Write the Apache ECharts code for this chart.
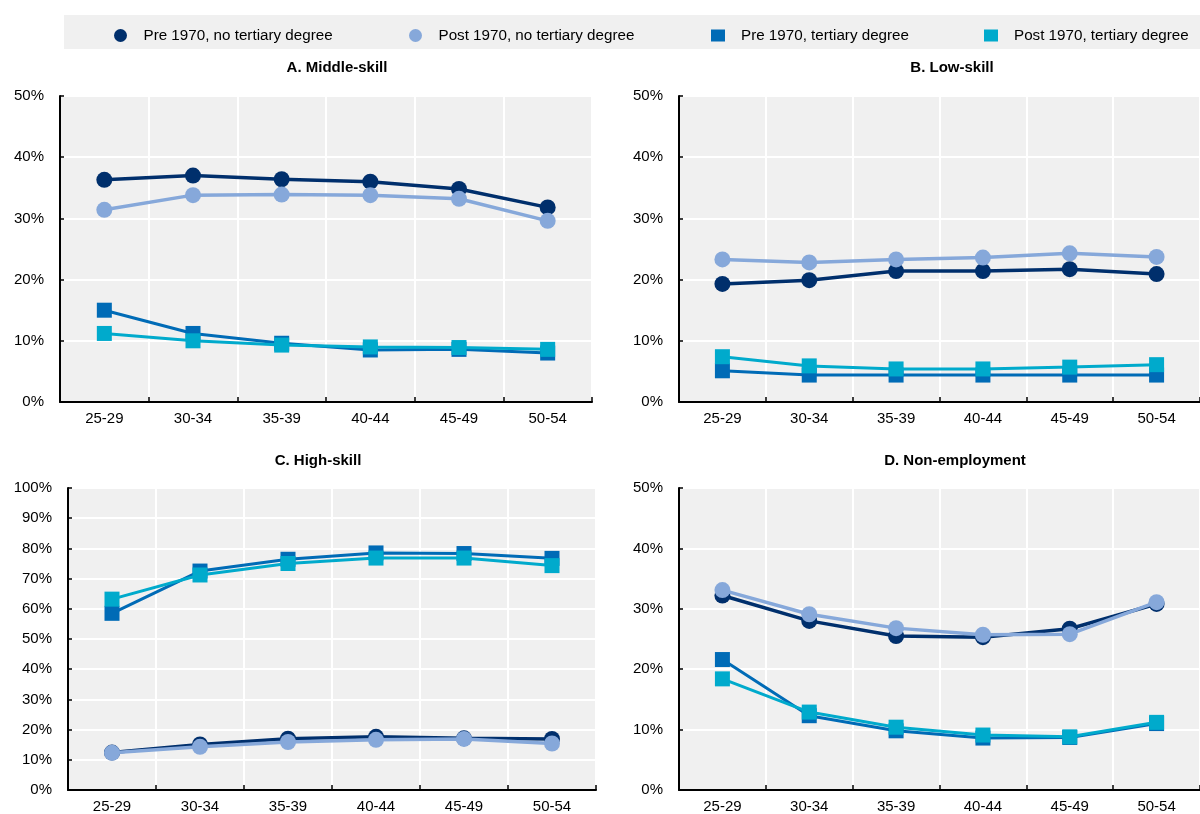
<!DOCTYPE html>
<html>
<head>
<meta charset="utf-8">
<script src="https://cdn.jsdelivr.net/npm/echarts@6/dist/echarts.min.js"></script>
<style>
html,body{margin:0;padding:0;background:#fff;}
#chart{width:1200px;height:814px;}
</style>
</head>
<body>
<div id="chart"></div>
<script>
const categories = ['25-29','30-34','35-39','40-44','45-49','50-54'];
const seriesNames = ['Pre 1970, no tertiary degree','Post 1970, no tertiary degree','Pre 1970, tertiary degree','Post 1970, tertiary degree'];
const panelTitles = ['A. Middle-skill','B. Low-skill','C. High-skill','D. Non-employment'];
const panelMax = [50, 50, 100, 50];

// A. Middle-skill
const middlePreNoTert  = [36.3, 37.0, 36.4, 36.0, 34.8, 31.8];
const middlePostNoTert = [31.4, 33.8, 33.9, 33.8, 33.2, 29.6];
const middlePreTert    = [15.0, 11.2, 9.6, 8.5, 8.6, 8.0];
const middlePostTert   = [11.2, 10.0, 9.3, 9.0, 8.9, 8.6];
// B. Low-skill
const lowPreNoTert  = [19.3, 19.9, 21.4, 21.4, 21.7, 20.9];
const lowPostNoTert = [23.3, 22.8, 23.3, 23.6, 24.3, 23.7];
const lowPreTert    = [5.1, 4.4, 4.4, 4.4, 4.4, 4.4];
const lowPostTert   = [7.4, 5.9, 5.4, 5.4, 5.7, 6.1];
// C. High-skill
const highPreNoTert  = [12.4, 15.1, 17.0, 17.6, 17.1, 16.9];
const highPostNoTert = [12.3, 14.3, 15.9, 16.6, 16.9, 15.4];
const highPreTert    = [58.5, 72.5, 76.4, 78.5, 78.3, 76.7];
const highPostTert   = [63.2, 71.2, 75.0, 76.8, 76.8, 74.3];
// D. Non-employment
const nonPreNoTert  = [32.2, 28.0, 25.5, 25.3, 26.7, 30.8];
const nonPostNoTert = [33.1, 29.1, 26.8, 25.7, 25.8, 31.1];
const nonPreTert    = [21.6, 12.3, 9.8, 8.6, 8.7, 11.0];
const nonPostTert   = [18.4, 12.9, 10.4, 9.1, 8.8, 11.2];

const panelData = [
  [middlePreNoTert, middlePostNoTert, middlePreTert, middlePostTert],
  [lowPreNoTert, lowPostNoTert, lowPreTert, lowPostTert],
  [highPreNoTert, highPostNoTert, highPreTert, highPostTert],
  [nonPreNoTert, nonPostNoTert, nonPreTert, nonPostTert]
];

const colors = ['#002F6C', '#86A8DA', '#006BB6', '#00AACC'];
const symbols = ['circle', 'circle', 'rect', 'rect'];
const FONT = "'Liberation Sans Narrow', 'Arial Narrow', 'Liberation Sans', Arial, sans-serif";

const grids = [
  {left: 60, top: 96, width: 532, height: 306},
  {left: 679, top: 96, width: 527, height: 306},
  {left: 68, top: 488, width: 528, height: 305},
  {left: 679, top: 488, width: 527, height: 305}
];
const titlePos = [{x: 332, y: 55}, {x: 947, y: 55}, {x: 313, y: 448}, {x: 950, y: 448}];

const option = {
  backgroundColor: '#ffffff',
  animation: false,
  textStyle: {fontFamily: FONT},
  graphic: [{
    type: 'rect', shape: {x: 64, y: 15, width: 1140, height: 34},
    style: {fill: '#F0F0F0'}, z: -1, silent: true
  }],
  title: panelTitles.map((t, i) => ({
    text: t, left: titlePos[i].x, top: titlePos[i].y, textAlign: 'center',
    textStyle: {fontFamily: FONT, fontSize: 15, fontWeight: 'bold', color: '#000'}
  })),
  legend: [
    {left: 109, name: seriesNames[0]},
    {left: 404, name: seriesNames[1]},
    {left: 706, name: seriesNames[2]},
    {left: 979, name: seriesNames[3]}
  ].map((l, i) => ({
    left: l.left, top: 23, data: [{name: l.name, icon: symbols[i] === 'circle' ? 'circle' : 'rect'}],
    itemWidth: 14, itemHeight: i < 2 ? 13 : 12, selectedMode: false,
    textStyle: {fontFamily: FONT, fontSize: 15.2, color: '#000', padding: [0, 0, 0, 11]}
  })),
  grid: grids.map(g => Object.assign({show: true, backgroundColor: '#F0F0F0', borderWidth: 0}, g)),
  xAxis: grids.map((g, i) => ({
    type: 'category', gridIndex: i, data: categories, boundaryGap: true,
    axisLine: {show: true, lineStyle: {color: '#000', width: 2}},
    axisTick: {show: true, inside: true, length: 5, alignWithLabel: false, lineStyle: {color: '#000', width: 1.5}},
    axisLabel: {fontFamily: FONT, fontSize: 15, color: '#000', margin: 9},
    splitLine: {show: true, lineStyle: {color: '#ffffff', width: 2}}
  })),
  yAxis: grids.map((g, i) => ({
    type: 'value', gridIndex: i, min: 0, max: panelMax[i], interval: 10,
    axisLine: {show: true, lineStyle: {color: '#000', width: 2}},
    axisTick: {show: true, inside: true, length: 4, lineStyle: {color: '#000', width: 1.5}},
    axisLabel: {fontFamily: FONT, fontSize: 15, color: '#000', margin: 16, formatter: '{value}%'},
    splitLine: {show: true, lineStyle: {color: '#ffffff', width: 2}}
  })),
  series: []
};

panelData.forEach((arrs, p) => {
  arrs.forEach((vals, s) => {
    option.series.push({
      type: 'line', name: seriesNames[s], xAxisIndex: p, yAxisIndex: p,
      data: vals, symbol: symbols[s], symbolSize: s < 2 ? 16 : 15,
      showSymbol: true,
      lineStyle: {color: colors[s], width: s < 2 ? 3.5 : 3},
      itemStyle: {color: colors[s], borderWidth: 0},
      z: 2 + s
    });
  });
});

const chart = echarts.init(document.getElementById('chart'), null, {renderer: 'canvas'});
chart.setOption(option);
</script>
</body>
</html>
